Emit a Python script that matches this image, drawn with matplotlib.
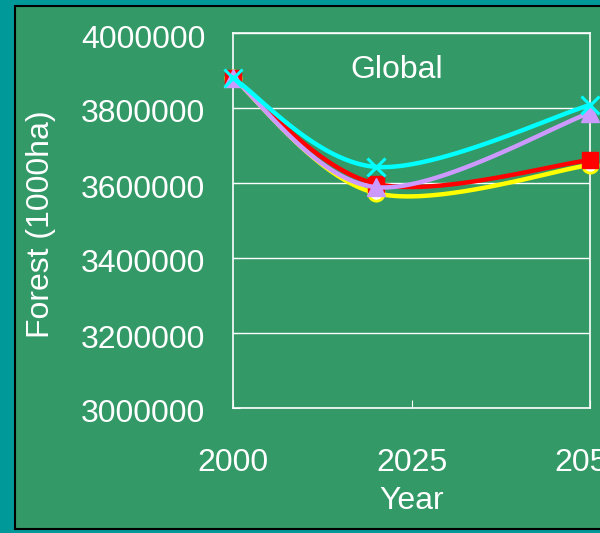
import numpy as np
import matplotlib.pyplot as plt
from matplotlib.patches import Rectangle
from matplotlib.transforms import ScaledTranslation

plt.rcParams['font.family'] = ['Liberation Sans', 'DejaVu Sans']

# data (forest area, 1000 ha)
years = [2000, 2020, 2050]
s_yellow = [3880000, 3573000, 3648000]
s_red = [3880000, 3598000, 3661000]
s_purple = [3880000, 3589000, 3787000]
s_cyan = [3880000, 3643000, 3808000]

yticks = [3000000, 3200000, 3400000, 3600000, 3800000, 4000000]
xticks = [2000, 2025, 2050]


def smooth(x, y, n=40):
    # Excel-style smoothed line (Bezier through the points)
    x = np.asarray(x, float)
    y = np.asarray(y, float)
    px = np.concatenate([[x[0]], x, [x[-1]]])
    py = np.concatenate([[y[0]], y, [y[-1]]])
    xs, ys = [], []
    t = np.linspace(0, 1, n)
    for i in range(len(x) - 1):
        p0 = np.array([x[i], y[i]])
        p3 = np.array([x[i + 1], y[i + 1]])
        p1 = p0 + (np.array([px[i + 2], py[i + 2]]) - np.array([px[i], py[i]])) / 6
        p2 = p3 - (np.array([px[i + 3], py[i + 3]]) - np.array([px[i + 1], py[i + 1]])) / 6
        b = ((1 - t) ** 3)[:, None] * p0 + (3 * (1 - t) ** 2 * t)[:, None] * p1 \
            + (3 * (1 - t) * t ** 2)[:, None] * p2 + (t ** 3)[:, None] * p3
        xs.extend(b[:, 0])
        ys.extend(b[:, 1])
    return xs, ys


green = '#339966'
fig = plt.figure(figsize=(6, 5.33), dpi=100)
fig.patch.set_facecolor('#009999')
fig.patches.append(Rectangle((15 / 600, 1 - 529 / 533), 1.0, 523 / 533,
                             transform=fig.transFigure, facecolor=green,
                             edgecolor='black', linewidth=1.5, zorder=-1))

ax = fig.add_axes([233 / 600, 1 - 408 / 533, 357 / 600, 375 / 533])
ax.set_zorder(2)
ax.set_facecolor(green)
for sp in ax.spines.values():
    sp.set_color('white')
    sp.set_linewidth(1.2)

ax.set_xlim(2000, 2050)
ax.set_ylim(3000000, 4000000)
ax.set_yticks(yticks)
ax.set_yticklabels([str(v) for v in yticks])
ax.set_xticks(xticks)
ax.set_xticklabels([str(v) for v in xticks])
ax.tick_params(axis='y', colors='white', labelsize=23, direction='in', length=5, pad=20)
ax.tick_params(axis='x', colors='white', labelsize=23, direction='in', length=6, pad=29)
shift = ScaledTranslation(0, -3 / 100, fig.dpi_scale_trans)
for lbl in ax.get_yticklabels():
    lbl.set_transform(lbl.get_transform() + shift)
ax.yaxis.grid(True, color='white', linewidth=1)
ax.set_axisbelow(True)

series = [
    (s_yellow, '#FFFF00', dict(marker='o', markersize=11, markerfacecolor='white',
                                markeredgecolor='#FFFF00', markeredgewidth=2)),
    (s_red, '#FF0000', dict(marker='s', markersize=12, markerfacecolor='#FF0000',
                             markeredgecolor='#FF0000')),
    (s_purple, '#CC99FF', dict(marker='^', markersize=13, markerfacecolor='#CC99FF',
                                markeredgecolor='#CC99FF')),
    (s_cyan, '#00FFFF', dict(marker='x', markersize=13, markeredgecolor='#00FFFF',
                              markeredgewidth=2.2)),
]
for i, (vals, col, mk) in enumerate(series):
    sx, sy = smooth(years, vals)
    ax.plot(sx, sy, color=col, linewidth=3.2, zorder=3 + i, clip_on=False)
    ax.plot(years, vals, linestyle='none', zorder=3 + i, clip_on=False, **mk)

ax.text(0.459, 0.9, 'Global', transform=ax.transAxes, color='white',
        fontsize=23, ha='center', va='center')
fig.text(0.5 * (233 + 590) / 600, 1 - 501 / 533, 'Year', color='white',
         fontsize=23, ha='center', va='center')
fig.text(41 / 600, 1 - 224 / 533, 'Forest (1000ha)', color='white', fontsize=23,
         rotation=90, ha='center', va='center')

fig.savefig('out.png', dpi=100, facecolor=fig.get_facecolor())
